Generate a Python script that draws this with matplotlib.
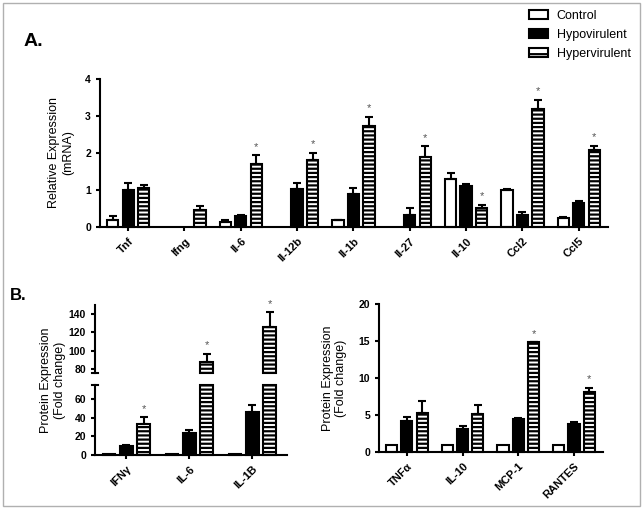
import numpy as np
import matplotlib
matplotlib.use('Agg')
import matplotlib.pyplot as plt
from matplotlib.patches import Rectangle, Patch

plt.rcParams['font.family'] = ['Liberation Sans', 'DejaVu Sans']
plt.rcParams['hatch.linewidth'] = 1.6

nan = np.nan
groups = ['Control', 'Hypovirulent', 'Hypervirulent']

# A. mRNA
genes = ['Tnf', 'Ifng', 'Il-6', 'Il-12b', 'Il-1b', 'Il-27', 'Il-10', 'Ccl2', 'Ccl5']
mrna_ctrl = [0.2, nan, 0.13, nan, 0.18, nan, 1.3, 1.0, 0.23]
mrna_ctrl_err = [0.1, 0, 0.07, 0, 0.02, 0, 0.16, 0.02, 0.03]
mrna_hypo = [1.0, nan, 0.3, 1.02, 0.88, 0.32, 1.12, 0.33, 0.64]
mrna_hypo_err = [0.2, 0, 0.02, 0.16, 0.18, 0.19, 0.03, 0.07, 0.06]
mrna_hyper = [1.05, 0.45, 1.69, 1.8, 2.73, 1.88, 0.52, 3.19, 2.08]
mrna_hyper_err = [0.08, 0.13, 0.25, 0.2, 0.25, 0.3, 0.08, 0.25, 0.12]
mrna_sig = [False, False, True, True, True, True, True, True, True]

# B. protein, left (broken axis)
prot1 = ['IFNγ', 'IL-6', 'IL-1B']
prot1_ctrl = [1, 1, 1]
prot1_ctrl_err = [0, 0, 0]
prot1_hypo = [10, 23.5, 46]
prot1_hypo_err = [1, 3, 8]
prot1_hyper = [33, 88, 126]
prot1_hyper_err = [7.5, 8.5, 16]
prot1_sig = [True, True, True]

# B. protein, right
prot2 = ['TNFα', 'IL-10', 'MCP-1', 'RANTES']
prot2_ctrl = [1, 1, 1, 1]
prot2_ctrl_err = [0, 0, 0, 0]
prot2_hypo = [4.2, 3.1, 4.5, 3.8]
prot2_hypo_err = [0.55, 0.4, 0.07, 0.25]
prot2_hyper = [5.3, 5.2, 14.8, 8.1]
prot2_hyper_err = [1.65, 1.2, 0.05, 0.6]
prot2_sig = [False, False, True, True]

styles = [dict(color='white', edgecolor='black'),
          dict(color='black', edgecolor='black'),
          dict(color='white', edgecolor='black', hatch='----')]
W = 642
H = 515
width = 0.2
step = 0.275
lw = 1.5


def style_axis(ax, labels=None):
    ax.spines['top'].set_visible(False)
    ax.spines['right'].set_visible(False)
    ax.spines['left'].set_linewidth(lw)
    ax.spines['bottom'].set_linewidth(lw)
    ax.tick_params(width=lw, length=3)
    for t in ax.get_yticklabels():
        t.set_fontsize(7.5)
        t.set_fontweight('bold')
    if labels is not None:
        ax.set_xticks(np.arange(len(labels)))
        ax.set_xticklabels(labels, rotation=45, ha='right', rotation_mode='anchor',
                           fontsize=8, fontweight='bold')


def draw(ax, vals, errs, sig, top=None, bottom=None, star_off=2.5):
    x = np.arange(len(vals[0]))
    for k in range(3):
        v = np.array(vals[k], float)
        e = np.array(errs[k], float)
        xs = x + (k - 1) * step
        if bottom is not None:
            m = v > bottom
            if not m.any():
                continue
            ax.bar(xs[m], v[m] - bottom, width, bottom=bottom, linewidth=lw,
                   clip_on=False, **styles[k])
        else:
            h = np.minimum(v, top) if top is not None else v
            ax.bar(xs, h, width, linewidth=lw, clip_on=False, **styles[k])
            m = ~np.isnan(v) & (e > 0)
            if top is not None:
                m &= v < top
        ax.errorbar(xs[m], v[m], yerr=[np.zeros(m.sum()), e[m]], fmt='none',
                    ecolor='black', elinewidth=lw, capsize=3, capthick=lw)
        if k == 2:
            for xx, tt, s in zip(xs[m], v[m] + e[m], np.array(sig)[m]):
                if s:
                    ax.annotate('*', (xx, tt), xytext=(0, star_off), textcoords='offset points',
                                ha='center', va='bottom', fontsize=8, color='#555555',
                                annotation_clip=False)


fig = plt.figure(figsize=(W / 100, H / 100), dpi=100)

# panel A
axA = fig.add_axes([100 / W, 1 - 227 / H, 508 / W, 148 / H])
draw(axA, [mrna_ctrl, mrna_hypo, mrna_hyper],
     [mrna_ctrl_err, mrna_hypo_err, mrna_hyper_err], mrna_sig)
axA.set_ylim(0, 4)
axA.set_xlim(-0.5, 8.52)
axA.set_yticks([0, 1, 2, 3, 4])
style_axis(axA, genes)
axA.set_ylabel('Relative Expression\n(mRNA)', fontsize=9, labelpad=8)

# panel B left, broken
axL = fig.add_axes([95 / W, 1 - 455 / H, 192 / W, 70 / H])
axU = fig.add_axes([95 / W, 1 - 373 / H, 192 / W, 68 / H], sharex=axL)
vals1 = [prot1_ctrl, prot1_hypo, prot1_hyper]
errs1 = [prot1_ctrl_err, prot1_hypo_err, prot1_hyper_err]
draw(axL, vals1, errs1, prot1_sig, top=75)
draw(axU, vals1, errs1, prot1_sig, bottom=75.6)
axL.set_ylim(0, 75)
axU.set_ylim(75.6, 150)
axL.set_xlim(-0.5, 2.55)
axL.set_yticks([0, 20, 40, 60])
axU.set_yticks([80, 100, 120, 140])
style_axis(axL, prot1)
style_axis(axU)
axU.spines['bottom'].set_visible(False)
axU.tick_params(axis='x', bottom=False, labelbottom=False)
for ax, y in [(axL, 1), (axU, 0)]:
    ax.plot([-0.018, 0.018], [y, y], transform=ax.transAxes, color='black',
            linewidth=lw, clip_on=False)
fig.text(53 / W, 1 - 380 / H, 'Protein Expression\n(Fold change)', rotation=90,
         ha='center', va='center', fontsize=9)

# panel B right
axR = fig.add_axes([379 / W, 1 - 452 / H, 224 / W, 148 / H])
draw(axR, [prot2_ctrl, prot2_hypo, prot2_hyper],
     [prot2_ctrl_err, prot2_hypo_err, prot2_hyper_err], prot2_sig)
axR.set_ylim(0, 20)
axR.set_xlim(-0.5, 3.52)
axR.set_yticks([0, 5, 10, 15, 20])
style_axis(axR, prot2)
axR.set_ylabel('Protein Expression\n(Fold change)', fontsize=9, labelpad=8)

# legend
handles = [Patch(facecolor='white', edgecolor='black', linewidth=lw),
           Patch(facecolor='black', edgecolor='black', linewidth=lw),
           Patch(facecolor='white', edgecolor='black', linewidth=lw, hatch='--')]
fig.legend(handles, groups, loc='upper left', bbox_to_anchor=(529 / W, 1 - 10 / H),
           frameon=False, fontsize=9, handlelength=1.5, handleheight=0.7,
           handletextpad=0.7, labelspacing=0.55, borderpad=0, borderaxespad=0)

fig.text(24 / W, 1 - 42 / H, 'A.', fontsize=14, fontweight='bold', va='center')
fig.text(10 / W, 1 - 295 / H, 'B.', fontsize=12, fontweight='bold', va='center')

fig.add_artist(Rectangle((3 / W, 1 - 506 / H), 637 / W, 503 / H, transform=fig.transFigure,
                         fill=False, edgecolor='#b0b0b0', linewidth=1))

fig.savefig('out.png', dpi=100)
